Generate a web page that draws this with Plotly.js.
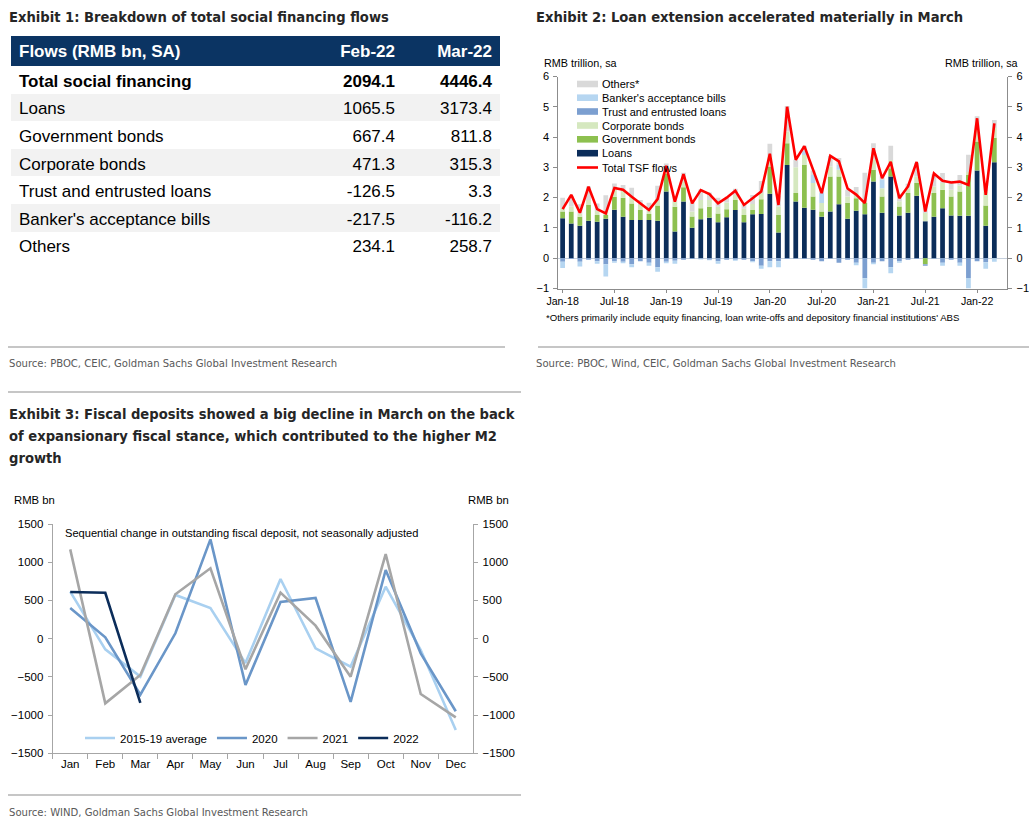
<!DOCTYPE html>
<html>
<head>
<meta charset="utf-8">
<script src="https://cdn.plot.ly/plotly-3.0.1.min.js"></script>
<style>
html,body{margin:0;padding:0;background:#fff;}
#chart{width:1029px;height:831px;}
</style>
</head>
<body>
<div id="chart"></div>
<script>
// ---------------- Exhibit 1 data (RMB bn, SA) ----------------
const tableLabels = ["Total social financing","Loans","Government bonds","Corporate bonds","Trust and entrusted loans","Banker's acceptance bills","Others"];
const feb22 = [2094.1,1065.5,667.4,471.3,-126.5,-217.5,234.1];
const mar22 = [4446.4,3173.4,811.8,315.3,3.3,-116.2,258.7];
const tableHeader = ["Flows (RMB bn, SA)","Feb-22","Mar-22"];

// ---------------- Exhibit 2 data (RMB trillion, sa) ----------------
const months2 = ["Jan-18","Feb-18","Mar-18","Apr-18","May-18","Jun-18","Jul-18","Aug-18","Sep-18","Oct-18","Nov-18","Dec-18",
"Jan-19","Feb-19","Mar-19","Apr-19","May-19","Jun-19","Jul-19","Aug-19","Sep-19","Oct-19","Nov-19","Dec-19",
"Jan-20","Feb-20","Mar-20","Apr-20","May-20","Jun-20","Jul-20","Aug-20","Sep-20","Oct-20","Nov-20","Dec-20",
"Jan-21","Feb-21","Mar-21","Apr-21","May-21","Jun-21","Jul-21","Aug-21","Sep-21","Oct-21","Nov-21","Dec-21",
"Jan-22","Feb-22","Mar-22"];
const tickLabels2 = ["Jan-18","Jul-18","Jan-19","Jul-19","Jan-20","Jul-20","Jan-21","Jul-21","Jan-22"];
const loans = [1.32,1.15,1.07,1.24,1.20,1.30,1.60,1.37,1.26,1.26,1.26,1.24,
2.20,0.88,1.87,1.01,1.29,1.34,1.19,1.35,1.59,1.19,1.45,1.46,
2.13,0.85,3.08,1.87,1.67,1.60,1.37,1.54,1.78,1.30,1.57,1.45,
2.53,1.50,2.70,1.41,1.50,2.06,1.22,1.37,1.65,1.41,1.40,1.40,
2.90,1.07,3.17];
const govBonds = [0.22,0.39,0.30,0.52,0.23,0.13,0.43,0.63,0.55,0.33,0.20,0.50,
0.60,0.82,0.47,0.37,0.36,0.36,0.29,0.27,0.33,0.24,0.14,0.49,
0.90,0.58,0.72,0.28,1.41,0.44,0.17,1.16,0.92,0.52,0.41,0.37,
0.39,0.54,0.27,0.30,0.65,0.42,-0.20,0.78,0.61,0.63,0.80,1.35,
0.95,0.67,0.81];
const corpBonds = [0.11,0.17,0.11,0.16,0.13,0.10,0.22,0.25,0.22,0.17,0.12,0.15,
0.10,0.17,0.20,0.16,0.27,0.22,0.22,0.22,0.17,0.20,0.20,0.20,
0.33,0.28,0.38,0.85,0.33,0.44,0.28,0.33,0.22,0.22,0.17,0.05,
0.33,0.27,0.27,0.17,0.15,0.22,0.27,0.22,0.22,0.22,0.20,0.10,
0.40,0.47,0.32];
const trustLoans = [-0.12,-0.03,-0.12,-0.05,-0.10,-0.20,-0.10,-0.12,-0.20,-0.10,-0.15,-0.30,
-0.12,-0.08,-0.05,-0.03,-0.02,-0.05,-0.10,-0.05,-0.05,-0.05,-0.10,-0.25,
-0.10,-0.10,-0.03,-0.02,-0.03,-0.05,-0.10,-0.02,-0.15,-0.05,-0.15,-0.66,
-0.15,-0.10,-0.30,-0.10,-0.05,-0.03,-0.05,-0.02,-0.15,-0.05,-0.15,-0.65,
-0.10,-0.13,0.003];
const bankersAcc = [-0.20,0.00,-0.15,0.00,-0.08,-0.40,-0.05,-0.05,-0.10,0.00,-0.10,-0.15,
-0.05,-0.10,0.00,0.00,-0.02,-0.02,-0.08,0.00,-0.03,0.00,-0.03,-0.10,
-0.20,-0.20,0.00,0.00,0.15,0.27,0.33,0.00,0.17,0.00,-0.08,-0.34,
-0.05,0.27,-0.20,-0.05,0.00,0.00,0.00,0.00,-0.10,0.00,-0.10,-0.35,
0.00,-0.22,-0.12];
const others = [0.35,0.35,0.30,0.45,0.25,0.55,0.22,0.17,0.30,0.16,0.25,0.50,
0.23,0.18,0.28,0.30,0.35,0.25,0.30,0.15,0.20,0.15,0.30,0.40,
0.42,0.35,0.85,0.25,0.15,0.15,0.12,0.35,0.22,0.22,0.20,0.95,
0.55,0.15,0.47,0.25,0.16,0.45,0.30,0.40,0.33,0.30,0.35,0.57,
0.44,0.23,0.26];
const tsfFlows = [1.62,2.09,1.50,2.36,1.62,1.48,2.32,2.26,2.03,1.81,1.59,1.95,
3.05,1.87,2.78,1.81,2.25,2.12,1.81,2.00,2.23,1.76,1.98,2.20,
3.45,1.76,5.00,3.25,3.70,2.90,2.15,3.38,3.20,2.30,2.10,1.82,
3.63,2.64,3.18,1.98,2.37,3.18,1.54,2.80,2.56,2.50,2.53,2.42,
4.62,2.09,4.45];

// ---------------- Exhibit 3 data (RMB bn) ----------------
const months3 = ["Jan","Feb","Mar","Apr","May","Jun","Jul","Aug","Sep","Oct","Nov","Dec"];
const avg1519 = [615,-140,-497,571,401,-320,780,-126,-366,680,-148,-1194];
const y2020 = [401,17,-732,70,1299,-606,480,532,-828,898,-192,-950];
const y2021 = [1168,-846,-475,580,920,-401,602,170,-497,1107,-724,-1029];
const y2022 = [610,600,-840];

// ---------------- helpers ----------------
const W = 1029, H = 831;
const px = x => x / W;
const py = y => 1 - y / H;
const ARIAL = '"Liberation Sans", Arial, Helvetica, sans-serif';
const NARROW = '"Liberation Sans Narrow", "Arial Narrow", "DejaVu Sans Condensed", sans-serif';

const C = {
  loans: '#0b2d5a', gov: '#8dc04f', corp: '#d5e8bf', trust: '#7c9fd0',
  ba: '#b6d6f1', others: '#d9d9d9', tsf: '#ff0000', navy: '#0b3463',
  avg: '#a9d0f0', c2020: '#6a96c8', c2021: '#a6a6a6', c2022: '#0b2d5a'
};

const traces = [];

// Exhibit 1 table
const rowFill = tableLabels.map((_, i) => i % 2 === 1 ? '#f2f2f2' : '#ffffff');
const rowWeight = tableLabels.map((_, i) => i === 0 ? 700 : 400);
traces.push({
  type: 'table',
  domain: {x: [px(11), px(500)], y: [py(265), py(36)]},
  columnwidth: [289, 103, 97],
  header: {
    values: tableHeader,
    align: ['left', 'right', 'right'],
    fill: {color: C.navy},
    line: {width: 0, color: C.navy},
    font: {family: ARIAL, size: 17, color: '#ffffff', weight: 700},
    height: 30
  },
  cells: {
    values: [
      tableLabels,
      feb22.map(v => v.toFixed(1)),
      mar22.map(v => v.toFixed(1))
    ],
    align: ['left', 'right', 'right'],
    fill: {color: [rowFill, rowFill, rowFill]},
    line: {width: 0, color: '#ffffff'},
    font: {family: ARIAL, size: 17, color: '#000000', weight: [rowWeight, rowWeight, rowWeight]},
    height: 27.6
  }
});

// Exhibit 2 stacked bars + line
const barSeries = [
  ['Loans', loans, C.loans],
  ['Government bonds', govBonds, C.gov],
  ['Corporate bonds', corpBonds, C.corp],
  ['Trust and entrusted loans', trustLoans, C.trust],
  ["Banker's acceptance bills", bankersAcc, C.ba],
  ['Others*', others, C.others]
];
barSeries.forEach(([name, vals, col]) => {
  traces.push({
    type: 'bar', name: name, x: months2, y: vals, xaxis: 'x', yaxis: 'y',
    marker: {color: col, line: {width: 0}}, showlegend: false, hoverinfo: 'skip'
  });
});
traces.push({
  type: 'scatter', mode: 'lines', name: 'Total TSF flows', x: months2, y: tsfFlows,
  xaxis: 'x', yaxis: 'y2', line: {color: C.tsf, width: 2.6}, showlegend: false, hoverinfo: 'skip'
});

// Exhibit 3 lines
[['2015-19 average', avg1519, C.avg, 'y3'],
 ['2020', y2020, C.c2020, 'y3'],
 ['2021', y2021, C.c2021, 'y3'],
 ['2022', y2022, C.c2022, 'y4']].forEach(([name, vals, col, ya]) => {
  traces.push({
    type: 'scatter', mode: 'lines', name: name, x: months3.slice(0, vals.length), y: vals,
    xaxis: 'x3', yaxis: ya, line: {color: col, width: 2.6}, hoverinfo: 'skip'
  });
});

// Exhibit 2 legend (drawn compactly as in the original)
const legendItems = [
  ['Others*', C.others, 84],
  ["Banker's acceptance bills", C.ba, 97.7],
  ['Trust and entrusted loans', C.trust, 111.5],
  ['Corporate bonds', C.corp, 125.5],
  ['Government bonds', C.gov, 139.3],
  ['Loans', C.loans, 153.2]
];

const shapes = [];
const annotations = [];
legendItems.forEach(([name, col, yc]) => {
  shapes.push({type: 'rect', xref: 'paper', yref: 'paper', x0: px(577), x1: px(598), y0: py(yc + 3.3), y1: py(yc - 3.3),
    fillcolor: col, line: {width: 0}});
  annotations.push({xref: 'paper', yref: 'paper', x: px(600), y: py(yc), xanchor: 'left', yanchor: 'middle',
    text: name, showarrow: false, font: {family: ARIAL, size: 11, color: '#000'}});
});
shapes.push({type: 'line', xref: 'paper', yref: 'paper', x0: px(577), x1: px(598), y0: py(167.5), y1: py(167.5),
  line: {color: C.tsf, width: 2.6}});
annotations.push({xref: 'paper', yref: 'paper', x: px(600), y: py(167.5), xanchor: 'left', yanchor: 'middle',
  text: 'Total TSF flows', showarrow: false, font: {family: ARIAL, size: 11, color: '#000'}});

// separator rules
[[8, 505, 347], [538, 1029, 347], [8, 521, 392], [8, 521, 795]].forEach(([x0, x1, y]) => {
  shapes.push({type: 'line', xref: 'paper', yref: 'paper', x0: px(x0), x1: px(x1), y0: py(y), y1: py(y),
    line: {color: '#b3b3b3', width: 1.5}});
});

function txt(text, x, y, size, opts) {
  annotations.push(Object.assign({xref: 'paper', yref: 'paper', x: px(x), y: py(y), xanchor: 'left', yanchor: 'middle',
    text: text, showarrow: false, font: {family: ARIAL, size: size, color: '#000'}}, opts || {}));
}
const titleFont = {family: NARROW, size: 14.6, color: '#262626'};
txt('<b>Exhibit 1: Breakdown of total social financing flows</b>', 7, 16, 14.6, {font: titleFont});
txt('<b>Exhibit 2: Loan extension accelerated materially in March</b>', 534, 16, 14.6, {font: titleFont});
txt('<b>Exhibit 3: Fiscal deposits showed a big decline in March on the back</b>', 7, 413, 14.6, {font: titleFont});
txt('<b>of expansionary fiscal stance, which contributed to the higher M2</b>', 7, 435, 14.6, {font: titleFont});
txt('<b>growth</b>', 7, 457, 14.6, {font: titleFont});
const srcFont = {family: NARROW, size: 11.2, color: '#595959'};
txt('Source: PBOC, CEIC, Goldman Sachs Global Investment Research', 7, 363, 11.2, {font: srcFont});
txt('Source: PBOC, Wind, CEIC, Goldman Sachs Global Investment Research', 534, 363, 11.2, {font: srcFont});
txt('Source: WIND, Goldman Sachs Global Investment Research', 7, 812, 11.2, {font: srcFont});

txt('RMB trillion, sa', 542, 63, 10.8);
txt('RMB trillion, sa', 1020, 63, 10.8, {xanchor: 'right'});
txt("*Others primarily include equity financing, loan write-offs and depository financial institutions' ABS", 544, 317.5, 9.6);

txt('RMB bn', 12, 500, 11.3);
txt('RMB bn', 511, 500, 11.3, {xanchor: 'right'});
txt('Sequential change in outstanding fiscal deposit, not seasonally adjusted', 63, 533, 11.1);

const axisLine = '#8c8c8c';
const layout = {
  width: W, height: H,
  margin: {l: 0, r: 0, t: 0, b: 0, pad: 0},
  paper_bgcolor: '#ffffff', plot_bgcolor: 'rgba(0,0,0,0)',
  font: {family: ARIAL, color: '#000'},
  barmode: 'relative', bargap: 0.45,
  showlegend: true,
  legend: {
    orientation: 'h', x: px(80), y: py(738), xanchor: 'left', yanchor: 'middle',
    bgcolor: 'rgba(0,0,0,0)', font: {family: ARIAL, size: 11.5, color: '#000'},
    itemclick: false, itemdoubleclick: false
  },
  xaxis: {
    domain: [px(558.3), px(1007.3)], anchor: 'y', type: 'category', range: [-0.5, 51.5],
    tickmode: 'array', tickvals: tickLabels2, ticktext: tickLabels2,
    showline: true, linecolor: axisLine, linewidth: 1, ticks: 'outside', ticklen: 3, tickcolor: axisLine,
    showgrid: false, zeroline: false, tickfont: {family: ARIAL, size: 10.6, color: '#000'}, fixedrange: true
  },
  yaxis: {
    domain: [py(288.5), py(76.5)], anchor: 'x', range: [-1, 6], dtick: 1, tick0: 0,
    showline: true, linecolor: axisLine, linewidth: 1, ticks: 'outside', ticklen: 4, tickcolor: axisLine,
    showgrid: false, zeroline: true, zerolinecolor: '#c5cfdc', zerolinewidth: 1,
    tickfont: {family: ARIAL, size: 11, color: '#000'}, ticklabelstandoff: 2, fixedrange: true
  },
  yaxis2: {
    overlaying: 'y', side: 'right', anchor: 'x', range: [-1, 6], dtick: 1, tick0: 0,
    showline: true, linecolor: axisLine, linewidth: 1, ticks: 'outside', ticklen: 4, tickcolor: axisLine,
    showgrid: false, zeroline: false,
    tickfont: {family: ARIAL, size: 11, color: '#000'}, ticklabelstandoff: 2, fixedrange: true
  },
  xaxis3: {
    domain: [px(52.7), px(473.3)], anchor: 'y3', type: 'category', range: [-0.5, 11.5],
    categoryorder: 'array', categoryarray: months3,
    showline: true, linecolor: '#a6a6a6', linewidth: 1, ticks: 'outside', tickson: 'boundaries', ticklen: 5, tickcolor: '#a6a6a6',
    showgrid: false, zeroline: false, tickfont: {family: ARIAL, size: 11.5, color: '#000'}, fixedrange: true
  },
  yaxis3: {
    domain: [py(753.3), py(524)], anchor: 'x3', range: [-1500, 1500], dtick: 500, tick0: 0,
    showline: true, linecolor: '#a6a6a6', linewidth: 1, ticks: 'outside', ticklen: 4, tickcolor: '#a6a6a6',
    showgrid: false, zeroline: false, tickfont: {family: ARIAL, size: 11.5, color: '#000'}, ticklabelstandoff: 2, fixedrange: true
  },
  yaxis4: {
    overlaying: 'y3', side: 'right', anchor: 'x3', range: [-1500, 1500], dtick: 500, tick0: 0,
    showline: true, linecolor: '#a6a6a6', linewidth: 1, ticks: 'outside', ticklen: 4, tickcolor: '#a6a6a6',
    showgrid: false, zeroline: false, tickfont: {family: ARIAL, size: 11.5, color: '#000'}, ticklabelstandoff: 2, fixedrange: true
  },
  shapes: shapes,
  annotations: annotations
};

Plotly.newPlot('chart', traces, layout, {staticPlot: true, displayModeBar: false, responsive: false});
</script>
</body>
</html>
